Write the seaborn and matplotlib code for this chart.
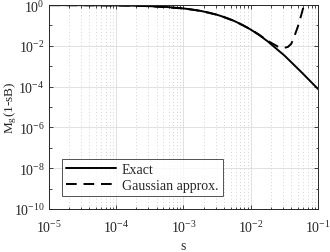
import numpy as np
import matplotlib
matplotlib.use("Agg")
import matplotlib.pyplot as plt
import matplotlib.ticker as mticker
import seaborn as sns

# values (log-log)
s_exact = [1e-5, 10**-4.5, 1e-4, 10**-3.75, 10**-3.5, 10**-3.25, 1e-3,
           10**-2.875, 10**-2.75, 10**-2.625, 10**-2.5, 10**-2.375,
           10**-2.25, 10**-2.125, 1e-2, 10**-1.875, 10**-1.75, 10**-1.5,
           10**-1.25, 1e-1]
m_exact = [0.996, 0.987, 0.961, 0.932, 0.883, 0.804, 0.683,
           0.606, 0.52, 0.427, 0.333, 0.245,
           0.168, 0.107, 0.0625, 0.0337, 0.0167, 0.00334,
           5.2e-4, 7.6e-5]

s_gauss = [1e-5, 1e-4, 10**-3.5, 1e-3, 10**-2.75, 10**-2.5, 10**-2.25,
           1e-2, 10**-1.875, 10**-1.75, 10**-1.67, 10**-1.6, 10**-1.52,
           10**-1.45, 10**-1.40, 10**-1.36, 10**-1.30, 10**-1.25,
           10**-1.21, 10**-1.17]
m_gauss = [0.996, 0.961, 0.883, 0.683, 0.52, 0.334, 0.169,
           0.064, 0.035, 0.018, 0.0125, 0.0093, 0.0078,
           0.0088, 0.0125, 0.025, 0.09, 0.33,
           1.0, 3.5]

sns.set_style("ticks")
plt.rcParams["font.family"] = ["Liberation Serif", "DejaVu Serif"]
plt.rcParams["mathtext.fontset"] = "stix"
plt.rcParams["xtick.direction"] = "in"
plt.rcParams["ytick.direction"] = "in"

fig = plt.figure(figsize=(3.3, 2.53), dpi=100)
ax = fig.add_axes([0.148, 0.17, 0.816, 0.806])

sns.lineplot(x=s_exact, y=m_exact, ax=ax, color="black", lw=1.4,
             label="Exact", sort=False)
sns.lineplot(x=s_gauss, y=m_gauss, ax=ax, color="black", lw=1.4,
             ls=(0, (5.5, 3.5)), label="Gaussian approx.", sort=False)

ax.set_xscale("log")
ax.set_yscale("log")
ax.set_xlim(1e-5, 1e-1)
ax.set_ylim(1e-10, 1e0)

ax.xaxis.set_major_locator(mticker.LogLocator(base=10, numticks=10))
ax.yaxis.set_major_locator(mticker.FixedLocator([1e-10, 1e-8, 1e-6, 1e-4, 1e-2, 1e0]))
ax.yaxis.set_major_formatter(mticker.LogFormatterSciNotation())
ax.xaxis.set_minor_locator(mticker.LogLocator(base=10, subs=np.arange(2, 10), numticks=20))
ax.yaxis.set_minor_locator(mticker.FixedLocator([1e-9, 1e-7, 1e-5, 1e-3, 1e-1]))
ax.yaxis.set_minor_formatter(mticker.NullFormatter())
ax.xaxis.set_minor_formatter(mticker.NullFormatter())

ax.grid(True, which="major", color="#dcdcdc", lw=0.6, ls="-")
ax.grid(True, which="minor", axis="x", color="#c4c4c4", lw=0.6, ls=(0, (1, 3)))
ax.set_axisbelow(True)

ax.tick_params(which="both", top=True, right=True, labelsize=10, colors="#262626",
               length=3, width=0.6)
ax.tick_params(axis="x", which="major", pad=7)
ax.tick_params(axis="y", which="major", pad=3)
ax.tick_params(which="minor", length=1.8)
for sp in ax.spines.values():
    sp.set_visible(True)
    sp.set_color("#262626")
    sp.set_linewidth(0.7)

ax.set_xlabel("s", fontsize=10, color="#262626", labelpad=3)
ax.set_ylabel(r"M$_\mathregular{g}$(1-sB)", fontsize=9.5, color="#262626")
ax.yaxis.set_label_coords(-0.112, 0.5)

leg = ax.legend(loc="lower left", bbox_to_anchor=(0.05, 0.065), fontsize=10,
                frameon=True, fancybox=False, edgecolor="#262626",
                handlelength=3.6, borderpad=0.3, labelspacing=0.2,
                handletextpad=0.4, borderaxespad=0)
leg.get_frame().set_linewidth(0.7)

fig.savefig("out.png", dpi=100)
